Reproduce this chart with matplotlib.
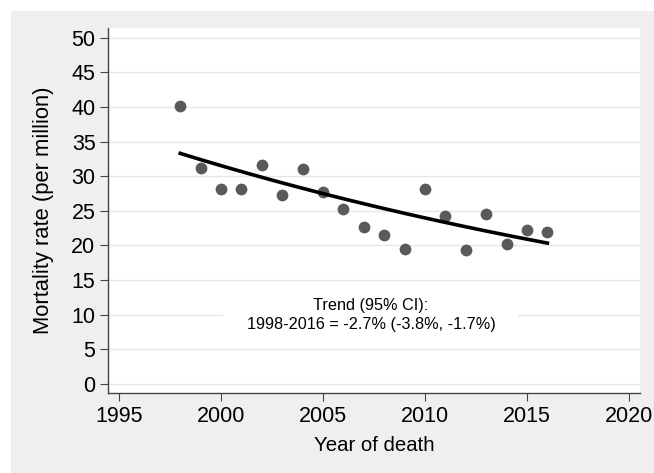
import matplotlib.pyplot as plt
import numpy as np
from matplotlib.patches import Rectangle

plt.rcParams['font.family'] = ['Liberation Sans', 'DejaVu Sans']

# mortality rate per million, by year of death
years = [1998, 1999, 2000, 2001, 2002, 2003, 2004, 2005, 2006, 2007,
         2008, 2009, 2010, 2011, 2012, 2013, 2014, 2015, 2016]
rates = [40.2, 31.2, 28.1, 28.1, 31.6, 27.3, 31.0, 27.7, 25.2, 22.6,
         21.5, 19.5, 28.2, 24.2, 19.4, 24.5, 20.2, 22.2, 22.0]

# fitted trend: start value, annual change from the annotation
trend_start = 33.3
trend_change = -0.027
trend_text = "Trend (95% CI):\n1998-2016 = -2.7% (-3.8%, -1.7%)"

x_ticks = [1995, 2000, 2005, 2010, 2015, 2020]
y_ticks = list(range(0, 51, 5))

W, H = 654, 473
fig = plt.figure(figsize=(W / 100, H / 100), dpi=100, facecolor="white")
# stata-style grey graph region
fig.patches.append(Rectangle((11 / W, 0), 1, (H - 11) / H, transform=fig.transFigure,
                             facecolor="#efefef", edgecolor="none", zorder=-1))

ax = fig.add_axes([108 / W, 80 / H, 532 / W, 365 / H])
ax.set_facecolor("white")

yr = np.linspace(years[0], years[-1], 100)
trend = trend_start * (1 + trend_change) ** (yr - years[0])

ax.scatter(years, rates, s=72, color="#5a5a5a", zorder=3, linewidths=0)
ax.plot(yr, trend, color="black", lw=2.6, zorder=4)

ax.set_xlim(1994.46, 2020.54)
ax.set_ylim(-1.3, 51.4)
ax.set_xticks(x_ticks)
ax.set_yticks(y_ticks)
ax.grid(axis="y", color="#e6e6e6", lw=1)
ax.set_axisbelow(True)

for side in ["top", "right"]:
    ax.spines[side].set_visible(False)
for side in ["left", "bottom"]:
    ax.spines[side].set_color("#444444")
    ax.spines[side].set_linewidth(1)
ax.tick_params(labelsize=15.5, length=6, color="#444444", pad=3)

ax.set_xlabel("Year of death", fontsize=14.7, labelpad=7)
ax.set_ylabel("Mortality rate (per million)", fontsize=15.8, labelpad=12.5)

# white patch behind the note hides the grid line
ax.add_patch(Rectangle((2000.1, 7.5), 14.45, 5, facecolor="white", edgecolor="none", zorder=1))
ax.text(2007.35, 10, trend_text, ha="center", va="center", fontsize=11.7,
        linespacing=1.35, zorder=5)

fig.savefig("out.png", dpi=100, facecolor=fig.get_facecolor())
